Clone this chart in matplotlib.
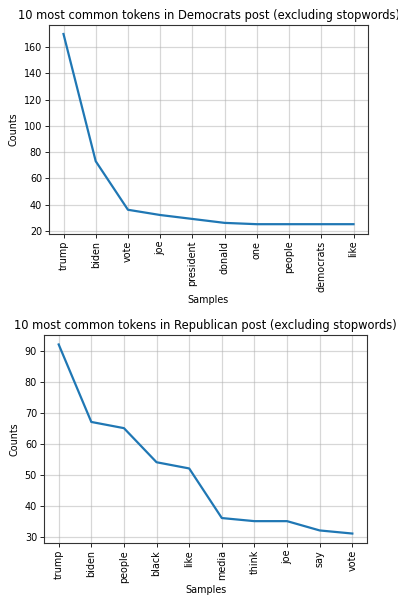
import matplotlib
matplotlib.use("Agg")
import matplotlib.pyplot as plt

# Democrats
dem_tokens = ["trump", "biden", "vote", "joe", "president", "donald", "one", "people", "democrats", "like"]
dem_counts = [170, 73, 36, 32, 29, 26, 25, 25, 25, 25]

# Republicans
rep_tokens = ["trump", "biden", "people", "black", "like", "media", "think", "joe", "say", "vote"]
rep_counts = [92, 67, 65, 54, 52, 36, 35, 35, 32, 31]

W, H = 398, 599
fig = plt.figure(figsize=(W / 100, H / 100), dpi=100)


def freq_plot(ax, tokens, counts, title):
    ax.plot(range(len(counts)), counts, color="#1f77b4", linewidth=1.6)
    ax.set_xticks(range(len(tokens)))
    ax.set_xticklabels(tokens, rotation=90)
    ax.grid(True, color="#b0b0b0", alpha=0.5, linewidth=0.9)
    ax.set_title(title, fontsize=8.3, pad=4)
    ax.set_xlabel("Samples", fontsize=6.9, labelpad=2)
    ax.set_ylabel("Counts", fontsize=6.9)
    ax.tick_params(labelsize=6.9, length=3, width=0.6, pad=2)
    for s in ax.spines.values():
        s.set_linewidth(0.8)
        s.set_color("#333333")


# axes rectangles in pixels: left, top, right, bottom
ax1 = fig.add_axes([49 / W, 1 - 233.7 / H, (368 - 49) / W, (233.7 - 24.5) / H])
ax2 = fig.add_axes([44 / W, 1 - 543 / H, (367 - 44) / W, (543 - 335) / H])

freq_plot(ax1, dem_tokens, dem_counts, "10 most common tokens in Democrats post (excluding stopwords)")
freq_plot(ax2, rep_tokens, rep_counts, "10 most common tokens in Republican post (excluding stopwords)")
ax1.set_yticks([20, 40, 60, 80, 100, 120, 140, 160])

fig.savefig("out.png", dpi=100)
